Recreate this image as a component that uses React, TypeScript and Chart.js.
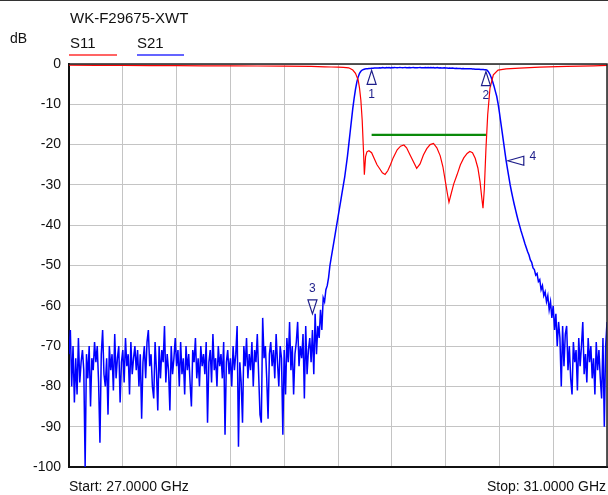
import React, { useEffect, useRef } from 'react';
import { Chart, registerables } from 'chart.js';
Chart.register(...registerables);

const TITLE = 'WK-F29675-XWT';
const Y_UNIT = 'dB';
const START_LABEL = 'Start: 27.0000 GHz';
const STOP_LABEL = 'Stop: 31.0000 GHz';
const X_MIN = 27;
const X_MAX = 31;
const Y_MIN = -100;
const Y_MAX = 0;

// S21 sweep: 27.00 .. 31.00 GHz, 0.01 GHz per point
const SWEEP_START = 27;
const SWEEP_STEP = 0.01;
const S21_DB = [
  // 27.0
  -72, -66, -80, -70, -84, -73, -82, -68, -79, -74,
  // 27.1
  -71, -76, -100, -72, -78, -70, -85, -73, -76, -69,
  // 27.2
  -74, -70, -79, -94, -72, -66, -77, -80, -73, -87,
  // 27.3
  -70, -76, -72, -81, -67, -78, -73, -70, -84, -74,
  // 27.4
  -71, -79, -68, -75, -72, -82, -69, -77, -73, -70,
  // 27.5
  -76, -71, -80, -72, -88, -74, -70, -78, -69, -66,
  // 27.6
  -75, -72, -80, -83, -69, -76, -86, -70, -78, -71,
  // 27.7
  -74, -65, -79, -72, -76, -86, -70, -77, -73, -68,
  // 27.8
  -75, -71, -80, -69, -77, -73, -82, -70, -76, -72,
  // 27.9
  -79, -85, -71, -74, -68, -78, -73, -80, -70, -75,
  // 28.0
  -72, -77, -69, -89, -74, -71, -79, -67, -76, -73,
  // 28.1
  -80, -70, -75, -72, -78, -69, -92, -74, -71, -77,
  // 28.2
  -73, -80, -70, -76, -72, -65, -95, -74, -79, -89,
  // 28.3
  -70, -75, -68, -78, -72, -76, -69, -80, -71, -74,
  // 28.4
  -67, -77, -87, -89, -63, -73, -70, -78, -88, -72,
  // 28.5
  -69, -75, -71, -78, -67, -74, -80, -70, -73, -92,
  // 28.6
  -71, -82, -68, -74, -64, -76, -70, -82, -72, -69,
  // 28.7
  -64, -75, -70, -73, -67, -83, -65, -77, -71, -68,
  // 28.8
  -74, -66, -77, -62, -72, -65, -68, -61, -66, -58,
  // 28.9
  -59, -56, -55, -53, -50, -48, -46, -44, -42, -40,
  // 29.0
  -38, -36, -34, -32, -30, -28, -25.5, -23, -20, -17,
  // 29.1
  -14, -11, -8.5, -6.3, -4.5, -3.2, -2.3, -1.8, -1.5, -1.35,
  // 29.2
  -1.25, -1.2, -1.15, -1.1, -1.1, -1.05, -1.05, -1.0, -1.0, -1.0,
  // 29.3
  -1.0, -0.95, -1.0, -0.9, -0.95, -1.0, -0.9, -0.95, -0.9, -1.0,
  // 29.4
  -0.9, -0.95, -0.85, -0.9, -0.95, -0.9, -0.85, -0.9, -0.95, -0.9,
  // 29.5
  -0.85, -0.9, -0.9, -0.85, -0.95, -0.9, -0.85, -0.9, -0.9, -0.95,
  // 29.6
  -0.9, -0.85, -0.95, -0.9, -0.9, -0.85, -0.95, -0.9, -0.95, -0.9,
  // 29.7
  -0.95, -0.9, -1.0, -0.95, -0.9, -1.0, -0.95, -1.0, -1.0, -0.95,
  // 29.8
  -1.0, -1.0, -1.05, -1.0, -1.05, -1.0, -1.05, -1.1, -1.05, -1.1,
  // 29.9
  -1.1, -1.1, -1.15, -1.1, -1.15, -1.15, -1.2, -1.15, -1.2, -1.2,
  // 30.0
  -1.25, -1.25, -1.3, -1.3, -1.3, -1.3, -1.35, -1.35, -1.35, -1.4,
  // 30.1
  -1.4, -1.6, -2.0, -2.6, -3.4, -4.4, -5.5, -6.8, -8.0, -9.8,
  // 30.2
  -12.0, -14.4, -16.8, -19.2, -21.6, -24, -26, -28, -30, -31.7,
  // 30.3
  -33.3, -34.8, -36.2, -37.6, -38.9, -40.1, -41.3, -42.4, -43.5, -44.6,
  // 30.4
  -45.6, -46.6, -47.4, -48.6, -49.2, -50.6, -51.0, -52.4, -52.0, -54.0,
  // 30.5
  -53.5, -56, -55, -57.5, -56.5, -59, -57.5, -61, -59, -63,
  // 30.6
  -60, -66, -62, -70, -64, -68, -80, -65, -75, -67,
  // 30.7
  -65, -76, -70, -78, -82, -69, -74, -71, -81, -68,
  // 30.8
  -75, -70, -64, -77, -72, -79, -68, -74, -70, -78,
  // 30.9
  -73, -82, -69, -76, -71, -78, -83, -68, -90, -70,
  // 31.0
  -64,
];

const S11_FREQ = [
  27.0, 27.2, 27.4, 27.6, 27.8, 28.0, 28.2, 28.4, 28.6, 28.8,
  28.9, 28.95, 29.0, 29.04, 29.08, 29.11, 29.13, 29.15, 29.16, 29.17,
  29.18, 29.19, 29.196, 29.205, 29.215, 29.23, 29.25, 29.27, 29.29, 29.31,
  29.33, 29.35, 29.37, 29.39, 29.41, 29.44, 29.465, 29.49, 29.51, 29.535,
  29.56, 29.585, 29.61, 29.635, 29.66, 29.685, 29.71, 29.735, 29.76, 29.78,
  29.8, 29.815, 29.825, 29.835, 29.86, 29.885, 29.91, 29.935, 29.96, 29.98,
  30.0, 30.02, 30.04, 30.056, 30.07, 30.078, 30.088, 30.1, 30.113, 30.13,
  30.155, 30.19, 30.25, 30.35, 30.5, 30.7, 30.9, 31.0,
];
const S11_DB = [
  -0.3, -0.35, -0.35, -0.4, -0.4, -0.45, -0.45, -0.5, -0.55, -0.6,
  -0.7, -0.75, -0.8, -0.85, -0.95, -1.5, -2.3, -4, -6, -9,
  -14, -22, -27.5, -23, -21.8, -21.5, -22, -23.5, -25, -26,
  -27, -27.4, -26.5, -25, -23.3, -21.3, -20.4, -20.1, -20.8, -22.5,
  -24.2, -25.9, -24.8, -22.6, -21, -20, -19.7, -20.8, -22.8, -25.5,
  -29.5, -32.5, -34.3, -33, -29.8, -27.5, -25, -23.3, -22.2, -21.7,
  -22, -23.4, -25.8, -29.2, -33.5, -35.8, -31, -21, -12.6, -6,
  -2.7, -1.5, -1.2, -1.0, -0.8, -0.6, -0.45, -0.35,
];

const LIMIT_FREQ = [29.25, 30.1];
const LIMIT_DB = [-17.6, -17.6];

const MARKER_LABELS = ['1', '2', '3', '4'];
const MARKER_FREQ = [29.25, 30.1, 28.81, 30.255];
const MARKER_DB = [-1.1, -1.4, -62, -24];
const MARKER_DIR = ['up', 'up', 'down', 'left'];

const FONT = '"Liberation Sans", Arial, sans-serif';
const MARKER_COLOR = '#1e1e8a';

const decorPlugin = {
  id: 'decor',
  beforeDraw(chart: any) {
    const { ctx, width, height } = chart;
    ctx.save();
    ctx.fillStyle = '#ffffff';
    ctx.fillRect(0, 0, width, height);
    ctx.restore();
  },
  afterDatasetsDraw(chart: any) {
    const { ctx, scales } = chart;
    const xs = scales.x;
    const ys = scales.y;
    ctx.save();
    ctx.strokeStyle = MARKER_COLOR;
    ctx.fillStyle = MARKER_COLOR;
    ctx.lineWidth = 1.2;
    ctx.font = `12px ${FONT}`;
    ctx.textAlign = 'center';
    ctx.textBaseline = 'middle';
    const L = 14;
    const B = 4.5;
    MARKER_FREQ.forEach((f, i) => {
      const px = xs.getPixelForValue(f);
      const py = ys.getPixelForValue(MARKER_DB[i]);
      const dir = MARKER_DIR[i];
      ctx.beginPath();
      if (dir === 'up') {
        const ay = py + 2;
        ctx.moveTo(px, ay);
        ctx.lineTo(px - B, ay + L);
        ctx.lineTo(px + B, ay + L);
        ctx.closePath();
        ctx.stroke();
        ctx.fillText(MARKER_LABELS[i], px, py + 26);
      } else if (dir === 'down') {
        const ay = py;
        ctx.moveTo(px, ay);
        ctx.lineTo(px - B, ay - L);
        ctx.lineTo(px + B, ay - L);
        ctx.closePath();
        ctx.stroke();
        ctx.fillText(MARKER_LABELS[i], px, py - 25);
      } else {
        const ax = px + 1;
        ctx.moveTo(ax, py);
        ctx.lineTo(ax + L + 2, py - B);
        ctx.lineTo(ax + L + 2, py + B);
        ctx.closePath();
        ctx.stroke();
        ctx.fillText(MARKER_LABELS[i], px + 26, py - 4);
      }
    });
    ctx.restore();
  },
  afterDraw(chart: any) {
    const { ctx, chartArea, width } = chart;
    ctx.save();
    ctx.fillStyle = '#333333';
    ctx.fillRect(0, 0, width, 1);
    ctx.strokeStyle = '#222222';
    ctx.lineWidth = 1.5;
    ctx.beginPath();
    ctx.moveTo(chartArea.left, chartArea.top);
    ctx.lineTo(chartArea.right, chartArea.top);
    ctx.lineTo(chartArea.right, chartArea.bottom);
    ctx.stroke();
    ctx.fillStyle = '#111111';
    ctx.textBaseline = 'alphabetic';
    ctx.textAlign = 'left';
    ctx.font = `15px ${FONT}`;
    ctx.fillText(TITLE, 70, 23);
    ctx.font = `14px ${FONT}`;
    ctx.fillText(Y_UNIT, 10, 43);
    ctx.font = `15px ${FONT}`;
    ctx.fillText('S11', 70, 48);
    ctx.fillText('S21', 137, 48);
    ctx.lineWidth = 1.5;
    ctx.strokeStyle = '#ff3030';
    ctx.beginPath();
    ctx.moveTo(69, 55);
    ctx.lineTo(117, 55);
    ctx.stroke();
    ctx.strokeStyle = '#3030ff';
    ctx.beginPath();
    ctx.moveTo(137, 55);
    ctx.lineTo(184, 55);
    ctx.stroke();
    ctx.font = `14px ${FONT}`;
    ctx.fillText(START_LABEL, 69, 491);
    ctx.textAlign = 'right';
    ctx.fillText(STOP_LABEL, 606, 491);
    ctx.restore();
  },
};

export default function App() {
  const ref = useRef<HTMLCanvasElement | null>(null);
  useEffect(() => {
    if (!ref.current) return;
    const s21 = S21_DB.map((v, i) => ({ x: SWEEP_START + i * SWEEP_STEP, y: v }));
    const s11 = S11_FREQ.map((f, i) => ({ x: f, y: S11_DB[i] }));
    const limit = LIMIT_FREQ.map((f, i) => ({ x: f, y: LIMIT_DB[i] }));
    const chart = new Chart(ref.current, {
      type: 'line',
      data: {
        datasets: [
          {
            label: 'limit',
            data: limit,
            borderColor: '#0a8a0a',
            borderWidth: 2.2,
            pointRadius: 0,
            order: 0,
          },
          {
            label: 'S21',
            data: s21,
            borderColor: '#0000ff',
            borderWidth: 1.5,
            pointRadius: 0,
            tension: 0,
            order: 2,
          },
          {
            label: 'S11',
            data: s11,
            borderColor: '#ff0000',
            borderWidth: 1.2,
            pointRadius: 0,
            tension: 0,
            order: 1,
          },
        ],
      },
      options: {
        animation: false,
        responsive: false,
        devicePixelRatio: 1,
        parsing: false,
        normalized: true,
        layout: { padding: { left: 0, top: 64, right: 1, bottom: 28 } },
        plugins: {
          legend: { display: false },
          title: { display: false },
          tooltip: { enabled: false },
        },
        scales: {
          x: {
            type: 'linear',
            min: X_MIN,
            max: X_MAX,
            ticks: { display: false, stepSize: 0.4 },
            grid: { color: '#c4c4c4', lineWidth: 1, drawTicks: false },
            border: { display: true, color: '#111111', width: 2 },
            afterFit: (s: any) => {
              s.height = 0;
            },
          },
          y: {
            type: 'linear',
            min: Y_MIN,
            max: Y_MAX,
            ticks: {
              stepSize: 10,
              color: '#111111',
              font: { family: FONT, size: 14 },
              padding: 8,
            },
            grid: { color: '#c4c4c4', lineWidth: 1, drawTicks: false },
            border: { display: true, color: '#111111', width: 2 },
            afterFit: (s: any) => {
              s.width = 69;
            },
          },
        },
      },
      plugins: [decorPlugin],
    });
    return () => chart.destroy();
  }, []);
  return (
    <div style={{ position: 'fixed', left: 0, top: 0, width: 608, height: 495, background: '#fff' }}>
      <canvas ref={ref} width={608} height={495} style={{ width: 608, height: 495, display: 'block' }} />
    </div>
  );
}
